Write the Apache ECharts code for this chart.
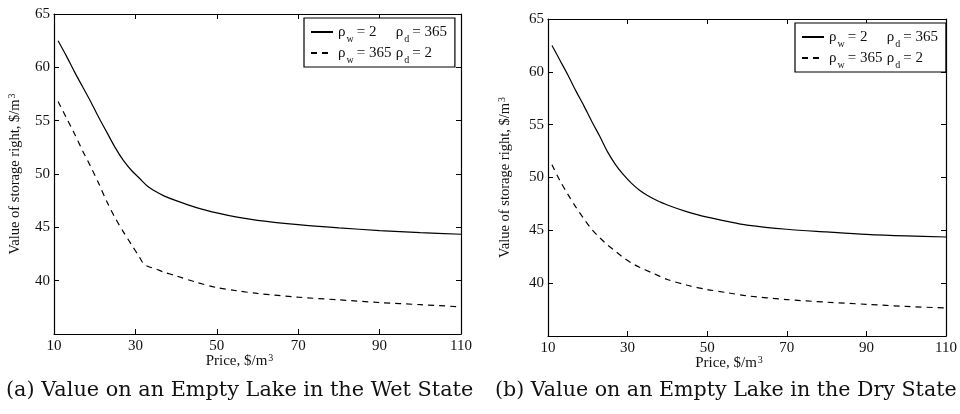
<!DOCTYPE html>
<html>
<head>
<meta charset="utf-8">
<script src="https://cdn.jsdelivr.net/npm/echarts@6/dist/echarts.min.js"></script>
<style>html,body{margin:0;padding:0;background:#fff}#c{width:960px;height:414px}</style>
</head>
<body>
<div id="c"></div>
<script>
// ---- data ----
const xTicks = [10, 30, 50, 70, 90, 110];
const yTicks = [40, 45, 50, 55, 60, 65];

const wetSolidPrice = [11,13,15,17,19,21,23,25,27,29,31,33,35,37,40,45,50,55,60,70,80,90,100,110];
const wetSolidValue = [62.5,61.1,59.6,58.2,56.8,55.3,53.9,52.5,51.3,50.35,49.6,48.85,48.35,47.95,47.5,46.85,46.35,45.95,45.65,45.25,44.95,44.7,44.5,44.35];

const wetDashPrice = [11,13,15,17,19,21,23,25,27,29,31,32,33,35,37,40,45,50,55,60,70,80,90,100,110];
const wetDashValue = [56.8,55.3,53.8,52.2,50.7,49.1,47.4,45.9,44.6,43.4,42.2,41.6,41.35,41.1,40.8,40.45,39.85,39.35,39.05,38.8,38.45,38.2,37.95,37.75,37.55];

const drySolidPrice = [11,13,15,17,19,21,23,25,27,29,31,33,35,37,40,45,50,55,60,70,80,90,100,110];
const drySolidValue = [62.5,61.1,59.7,58.2,56.8,55.3,53.9,52.4,51.2,50.25,49.45,48.8,48.3,47.9,47.4,46.75,46.25,45.85,45.5,45.1,44.85,44.62,44.47,44.37];

const dryDashPrice = [11,13,15,17,19,21,23,25,27,29,31,33,36,40,45,50,55,60,70,80,90,100,110];
const dryDashValue = [51.2,49.7,48.4,47.2,46.1,45.1,44.3,43.6,43.0,42.4,41.9,41.5,41.0,40.35,39.8,39.4,39.1,38.8,38.45,38.2,38.0,37.8,37.65];

const seriesNames = ['s1', 's2'];
const legendLabels = {
  s1: '{r|ρ}{s|w}{c|= 2}{r|ρ}{s|d}{r|= 365}',
  s2: '{r|ρ}{s|w}{c|= 365}{r|ρ}{s|d}{r|= 2}'
};
const captions = ['(a) Value on an Empty Lake in the Wet State', '(b) Value on an Empty Lake in the Dry State'];

// ---- build ----
const pair = (xs, ys) => xs.map((x, i) => [x, ys[i]]);
const FONT = 'Liberation Serif';
const INK = '#111';

const grids = [
  {left: 54, top: 14, width: 407, height: 320},
  {left: 548, top: 19, width: 403, height: 317}
];

function xAx(gi, top) {
  return {
    type: 'value', gridIndex: gi, position: top ? 'top' : 'bottom',
    min: xTicks[0], max: xTicks[xTicks.length - 1], interval: 20,
    axisLine: {show: true, onZero: false, lineStyle: {color: '#000', width: 1.2}},
    axisTick: {show: true, inside: true, length: 5, lineStyle: {color: '#000'}},
    axisLabel: {show: !top, margin: 5, color: INK, fontFamily: FONT, fontSize: 15},
    splitLine: {show: false},
    name: top ? '' : '{n|Price, $/m}{sup|3}',
    nameLocation: 'middle', nameGap: 19, nameMoveOverlap: false,
    nameTextStyle: {
      padding: [0, 36, 0, 0],
      rich: {
        n: {fontFamily: FONT, fontSize: 15, color: INK, lineHeight: 16, verticalAlign: 'bottom'},
        sup: {fontFamily: FONT, fontSize: 10, color: INK, lineHeight: 16, verticalAlign: 'top', padding: [0, 0, 0, 1]}
      }
    }
  };
}
function yAx(gi, right, gap) {
  return {
    type: 'value', gridIndex: gi, position: right ? 'right' : 'left',
    min: 35, max: 65, interval: 5,
    axisLine: {show: true, onZero: false, lineStyle: {color: '#000', width: 1.2}},
    axisTick: {show: true, inside: true, length: 5, lineStyle: {color: '#000'}},
    axisLabel: {show: !right, margin: 4, color: INK, fontFamily: FONT, fontSize: 15,
      formatter: v => (yTicks.indexOf(v) >= 0 ? String(v) : '')},
    splitLine: {show: false},
    name: right ? '' : '{n|Value of storage right, $/m}{sup|3}',
    nameLocation: 'middle', nameGap: gap, nameRotate: 90, nameMoveOverlap: false,
    nameTextStyle: {
      rich: {
        n: {fontFamily: FONT, fontSize: 14.5, color: INK, lineHeight: 16, verticalAlign: 'bottom'},
        sup: {fontFamily: FONT, fontSize: 10, color: INK, lineHeight: 16, verticalAlign: 'top', padding: [0, 0, 0, 1]}
      }
    }
  };
}

function line(name, data, gi, dashed) {
  return {
    name, type: 'line', xAxisIndex: gi * 2, yAxisIndex: gi * 2, data,
    showSymbol: false, symbol: 'none', silent: true, animation: false,
    smooth: 0.3,
    lineStyle: {color: '#000', width: 1.2, type: dashed ? [6, 5] : 'solid'},
    itemStyle: {color: '#000'}
  };
}

const legendRich = {
  r: {fontFamily: FONT, fontSize: 15, color: INK, lineHeight: 20, verticalAlign: 'middle'},
  s: {fontFamily: FONT, fontSize: 10, color: INK, lineHeight: 6, verticalAlign: 'middle', padding: [14, 3, 0, 1]},
  c: {fontFamily: FONT, fontSize: 15, color: INK, lineHeight: 20, verticalAlign: 'middle', width: 39}
};
function legend(left, top) {
  return {
    data: seriesNames, orient: 'vertical', left, top,
    itemWidth: 22, itemHeight: 12, itemGap: -3,
    padding: [2, 8, 2, 6],
    backgroundColor: '#fff', borderColor: '#000', borderWidth: 1.2,
    selectedMode: false,
    itemStyle: {opacity: 0},
    formatter: n => legendLabels[n],
    textStyle: {rich: legendRich, color: INK}
  };
}

const capStyle = {fontFamily: 'DejaVu Serif', fontSize: 20.8, lineHeight: 24, fontWeight: 'normal', color: INK};
const capStyleB = Object.assign({}, capStyle, {fontSize: 20.6});

const chart = echarts.init(document.getElementById('c'), null, {renderer: 'canvas'});
chart.setOption({
  animation: false,
  backgroundColor: '#fff',
  grid: grids,
  xAxis: [xAx(0, false), xAx(0, true), xAx(1, false), xAx(1, true)],
  yAxis: [yAx(0, false, 31), yAx(0, true), yAx(1, false, 35), yAx(1, true)],
  legend: [legend(304, 18), legend(795, 23)],
  title: [
    {text: captions[0], left: 6, top: 379, padding: 0, textStyle: capStyle},
    {text: captions[1], left: 495, top: 379, padding: 0, textStyle: capStyleB}
  ],
  series: [
    line('s1', pair(wetSolidPrice, wetSolidValue), 0, false),
    line('s2', pair(wetDashPrice, wetDashValue), 0, true),
    line('s1', pair(drySolidPrice, drySolidValue), 1, false),
    line('s2', pair(dryDashPrice, dryDashValue), 1, true)
  ]
});
</script>
</body>
</html>
